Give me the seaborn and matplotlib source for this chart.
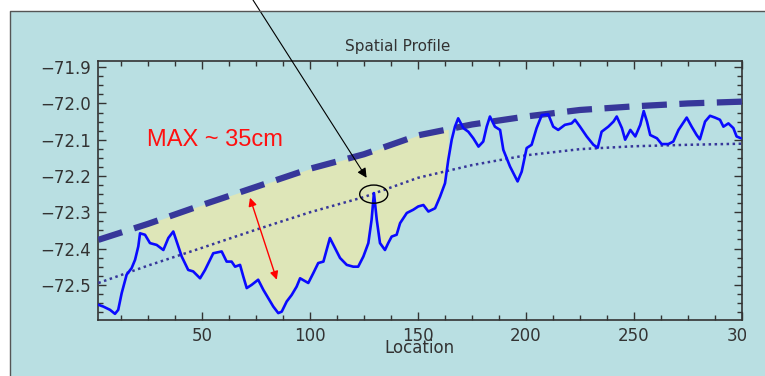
import numpy as np
import matplotlib
matplotlib.use("Agg")
import matplotlib.pyplot as plt
from matplotlib.patches import Ellipse, Rectangle
from matplotlib.transforms import Bbox, TransformedBbox
import seaborn as sns

# measured profile (Location vs elevation)
loc = [2, 4.3, 7.4, 9.7, 11.2, 12.8, 15.1, 17.4, 19, 20.5, 21.3, 23.6, 25.9, 29, 32.1,
       34.4, 36.7, 38.3, 40.6, 43.6, 45.9, 49.1, 51.4, 53.7, 55.2, 59.1, 61.4, 63.7,
       65.3, 67.6, 69.1, 70.7, 73, 76, 78.4, 80.7, 83, 85.3, 86.9, 89.2, 91.5, 93.8,
       95.4, 99.2, 101.5, 103.8, 106.2, 107.7, 109.2, 111.6, 113.9, 117, 120, 122.3,
       124.7, 127, 128.5, 129.6, 130.9, 132.4, 134.7, 136.2, 137.8, 140.1, 141.7,
       144.8, 147.8, 150.1, 152.5, 154.8, 157.9, 160.2, 162.5, 164, 165.6, 167.1,
       168.6, 171, 173.3, 175.6, 178, 180.2, 181.8, 183.3, 185.6, 188, 189.5, 192.6,
       196.1, 198, 200.3, 202.6, 204.9, 207.3, 210.3, 212.6, 214.9, 218, 221.1, 222.7,
       225, 228.1, 231.2, 233.2, 235, 238.1, 240.5, 242, 244.4, 245.9, 248.3, 250.6,
       252.9, 254.5, 256, 257.5, 260.6, 262.8, 265.9, 268.2, 270.6, 274.4, 276.7, 279,
       280.5, 282.9, 285.2, 287.5, 289.8, 291.4, 293.7, 296, 297.5, 299.5]
elev = [-72.555, -72.56, -72.569, -72.58, -72.569, -72.523, -72.472, -72.454, -72.431,
        -72.394, -72.358, -72.362, -72.385, -72.39, -72.404, -72.371, -72.353, -72.381,
        -72.422, -72.459, -72.463, -72.482, -72.459, -72.431, -72.413, -72.408, -72.436,
        -72.436, -72.45, -72.445, -72.477, -72.509, -72.5, -72.486, -72.514, -72.537,
        -72.56, -72.578, -72.574, -72.546, -72.528, -72.505, -72.482, -72.495, -72.468,
        -72.44, -72.436, -72.404, -72.371, -72.399, -72.426, -72.445, -72.45, -72.45,
        -72.422, -72.385, -72.321, -72.247, -72.321, -72.385, -72.404, -72.385, -72.367,
        -72.362, -72.33, -72.302, -72.293, -72.284, -72.28, -72.298, -72.289, -72.257,
        -72.22, -72.156, -72.1, -72.064, -72.041, -72.068, -72.078, -72.096, -72.119,
        -72.105, -72.064, -72.036, -72.064, -72.073, -72.128, -72.174, -72.215, -72.188,
        -72.123, -72.114, -72.068, -72.032, -72.03, -72.064, -72.073, -72.059, -72.055,
        -72.045, -72.064, -72.091, -72.114, -72.122, -72.078, -72.064, -72.05, -72.036,
        -72.068, -72.1, -72.073, -72.091, -72.059, -72.021, -72.05, -72.087, -72.096,
        -72.112, -72.112, -72.105, -72.073, -72.039, -72.064, -72.087, -72.099, -72.05,
        -72.034, -72.039, -72.045, -72.064, -72.055, -72.068, -72.091, -72.096]

# upper envelope (dashed) and trend (dotted)
env_loc = [2, 25, 50, 75, 100, 125, 150, 175, 200, 225, 250, 275, 300]
env_top = [-72.376, -72.332, -72.28, -72.23, -72.18, -72.14, -72.088, -72.058,
           -72.036, -72.018, -72.008, -72.0, -71.995]
trend = [-72.495, -72.447, -72.398, -72.348, -72.300, -72.258, -72.205, -72.17,
         -72.143, -72.126, -72.118, -72.114, -72.111]

x_ticks = [50, 100, 150, 200, 250, 300]
x_labels = ["50", "100", "150", "200", "250", "300"]
y_ticks = [-71.9, -72.0, -72.1, -72.2, -72.3, -72.4, -72.5]
y_labels = ["\u221271.9", "\u221272.0", "\u221272.1", "\u221272.2", "\u221272.3",
            "\u221272.4", "\u221272.5"]

bg = "#b9dfe2"
fill_col = "#dee6b8"
navy = "#37379a"
ink = "#333333"

sns.set_style("ticks")
plt.rcParams["font.family"] = ["DejaVu Sans"]

W, H = 765, 376
fig = plt.figure(figsize=(W / 100, H / 100), dpi=100)
fig.patch.set_facecolor("white")
# light blue panel with dark edge on left/top
fig.patches.append(Rectangle((10 / W, 0), 1.0, 1 - 11 / H, transform=fig.transFigure,
                             facecolor=bg, edgecolor="none", zorder=-2))
fig.lines.append(plt.Line2D([10 / W, 10 / W, 1], [0, 1 - 11 / H, 1 - 11 / H],
                            transform=fig.transFigure, color="#555555", lw=1))

ax = fig.add_axes([97.7 / W, 1 - 320 / H, (742 - 97.7) / W, (320 - 61) / H])
ax.set_facecolor(bg)

# shaded area between the envelope and the profile
loc_a = np.array(loc)
elev_a = np.array(elev)
top_at_loc = np.interp(loc_a, env_loc, env_top)
mask = (loc_a >= 21.3) & (loc_a <= 165)
ax.fill_between(loc_a, elev_a, top_at_loc, where=mask, color=fill_col, lw=0, zorder=1)

sns.lineplot(x=env_loc, y=env_top, ax=ax, color=navy, lw=4.5,
             linestyle=(0, (4, 2)), zorder=3)
sns.lineplot(x=env_loc, y=trend, ax=ax, color=navy, lw=1.8,
             linestyle=(0, (1, 1.4)), zorder=3)
sns.lineplot(x=loc, y=elev, ax=ax, color="#0a0aff", lw=1.9, zorder=4)

ax.set_xlim(1.7, 300)
ax.set_ylim(-72.597, -71.883)
ax.set_xticks(x_ticks)
ax.set_xticklabels(x_labels)
ax.set_yticks(y_ticks)
ax.set_yticklabels(y_labels)
ax.set_xticks(np.arange(12.5, 300, 12.5), minor=True)
ax.set_yticks(np.arange(-72.575, -71.89, 0.025), minor=True)
ax.tick_params(which="both", direction="in", top=True, right=True,
               color=ink, labelcolor=ink, width=1)
ax.tick_params(which="major", length=6, labelsize=12)
ax.tick_params(axis="x", which="major", pad=5)
ax.tick_params(axis="y", which="major", pad=5)
ax.tick_params(which="minor", length=3.5)
for s in ax.spines.values():
    s.set_color(ink)
    s.set_linewidth(1.2)

# last x label is cut off in the original
clip = TransformedBbox(Bbox([[0, 0], [746 / W, 1]]), fig.transFigure)
for lab in ax.get_xticklabels():
    lab.set_clip_box(clip)
    lab.set_clip_on(True)

ax.set_xlabel("Location", fontsize=12, color=ink)
ax.xaxis.set_label_coords(0.5, (320 - 339) / 259)
ax.set_ylabel("")
fig.text(398 / W, 1 - 46 / H, "Spatial Profile", ha="center", va="center",
         fontsize=11, color=ink)

ax.text(24.5, -72.102, "MAX ~ 35cm", color="#ff1010", fontsize=17,
        family=["Liberation Sans", "DejaVu Sans"], va="center", ha="left")

ax.add_patch(Ellipse((129.5, -72.25), 13, 0.05, facecolor="none",
                     edgecolor="black", lw=1, zorder=5))
ax.annotate("", xy=(126.2, -72.205), xytext=(253 / W, 1.0),
            textcoords="figure fraction", annotation_clip=False,
            arrowprops=dict(arrowstyle="-|>", color="black", lw=0.8,
                            mutation_scale=14, shrinkA=0, shrinkB=0), zorder=6)
ax.annotate("", xy=(84.6, -72.486), xytext=(72.2, -72.26),
            arrowprops=dict(arrowstyle="<|-|>", color="red", lw=1,
                            mutation_scale=12, shrinkA=0, shrinkB=0), zorder=6)

fig.savefig("out.png", dpi=100, facecolor=fig.get_facecolor())
